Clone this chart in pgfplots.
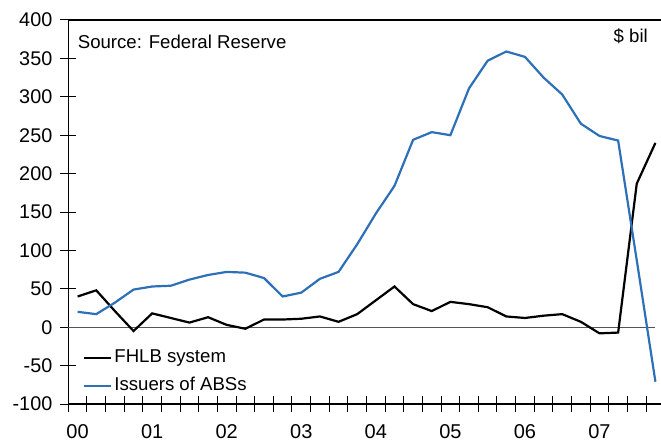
\documentclass[border=0pt]{standalone}
\usepackage{fontspec}
\setmainfont{Liberation Sans}
\usepackage{pgfplots}
\usepackage{pgfplotstable}
\pgfplotsset{compat=1.18}

\definecolor{absblue}{RGB}{46,112,184}
\definecolor{zerogray}{RGB}{85,85,85}

% Quarterly net flows, $ bil; q = quarter position (2000Q1 = 0.5)
\pgfplotstableread{
q     fhlb  abs
0.5   40    20
1.5   48    17
2.5   21    32
3.5   -5    49
4.5   18    53
5.5   12    54
6.5   6     62
7.5   13    68
8.5   3     72
9.5   -2    71
10.5  10    64
11.5  10    40
12.5  11    45
13.5  14    63
14.5  7     72
15.5  17    108
16.5  35    148
17.5  53    184
18.5  30    244
19.5  21    254
20.5  33    250
21.5  30    311
22.5  26    347
23.5  14    359
24.5  12    352
25.5  15    325
26.5  17    303
27.5  7     265
28.5  -8    249
29.5  -7    243
30.5  187   87
31.5  240   -71
}\flows

\newcommand\chartfont{\fontsize{18.6bp}{22bp}\selectfont}
\newcommand\ytickfont{\fontsize{19.8bp}{24bp}\selectfont}
\newcommand\xtickfont{\fontsize{20bp}{24bp}\selectfont}

\begin{document}
\begin{tikzpicture}[font=\chartfont]
\begin{axis}[
  name=ax, at={(0,0)}, anchor=south west,
  scale only axis,
  width=592.7bp, height=384bp,
  xmin=0, xmax=31.8, ymin=-100, ymax=400,
  axis x line*=box, axis y line*=left,
  xtick pos=bottom, ytick pos=left,
  axis line style={line width=1.1bp, black},
  ytick={-100,-50,...,400},
  yticklabels={-100,-50,0,50,100,150,200,250,300,350,400},
  xtick={0,1,...,31}, xticklabels={},
  extra x ticks={0.5,4.5,...,28.5},
  extra x tick labels={00,01,02,03,04,05,06,07},
  extra x tick style={major tick length=0pt},
  tick align=center, major tick length=16bp,
  tick style={line width=1bp, black},
  yticklabel style={font=\ytickfont, xshift=-4.5bp},
  xticklabel style={font=\xtickfont, yshift=-17.5bp},
  clip=false,
  legend cell align=left,
  legend style={draw=none, fill=none, inner xsep=0pt, inner ysep=0pt,
    at={([xshift=14.7bp, yshift=56.4bp]rel axis cs:0,0)}, anchor=north west,
    nodes={inner sep=2bp, text height=13bp, text depth=4bp},
    row sep=7bp, font=\chartfont},
  legend image code/.code={\draw[#1] (0bp,0bp) -- (27bp,0bp);},
]
\addplot[zerogray, line width=0.8bp, forget plot] coordinates {(0,0) (31.5,0)};
\addplot[black, line width=2.2bp] table[x=q, y=fhlb] {\flows};
\addlegendentry{FHLB system}
\addplot[absblue, line width=2.2bp] table[x=q, y=abs] {\flows};
\addlegendentry{Issuers of ABSs}

\node[anchor=base west, inner sep=0pt] at ([xshift=9.4bp, yshift=-28.3bp]rel axis cs:0,1) {Source: Federal Reserve};
\node[anchor=base east, inner sep=0pt] at ([xshift=-13bp, yshift=-22.7bp]rel axis cs:1,1) {\$ bil};
\end{axis}
\pgfresetboundingbox
\path[use as bounding box] ([xshift=-68.3bp, yshift=-41bp]ax.south west) rectangle ([yshift=20bp]ax.north east);
\end{tikzpicture}
\end{document}
